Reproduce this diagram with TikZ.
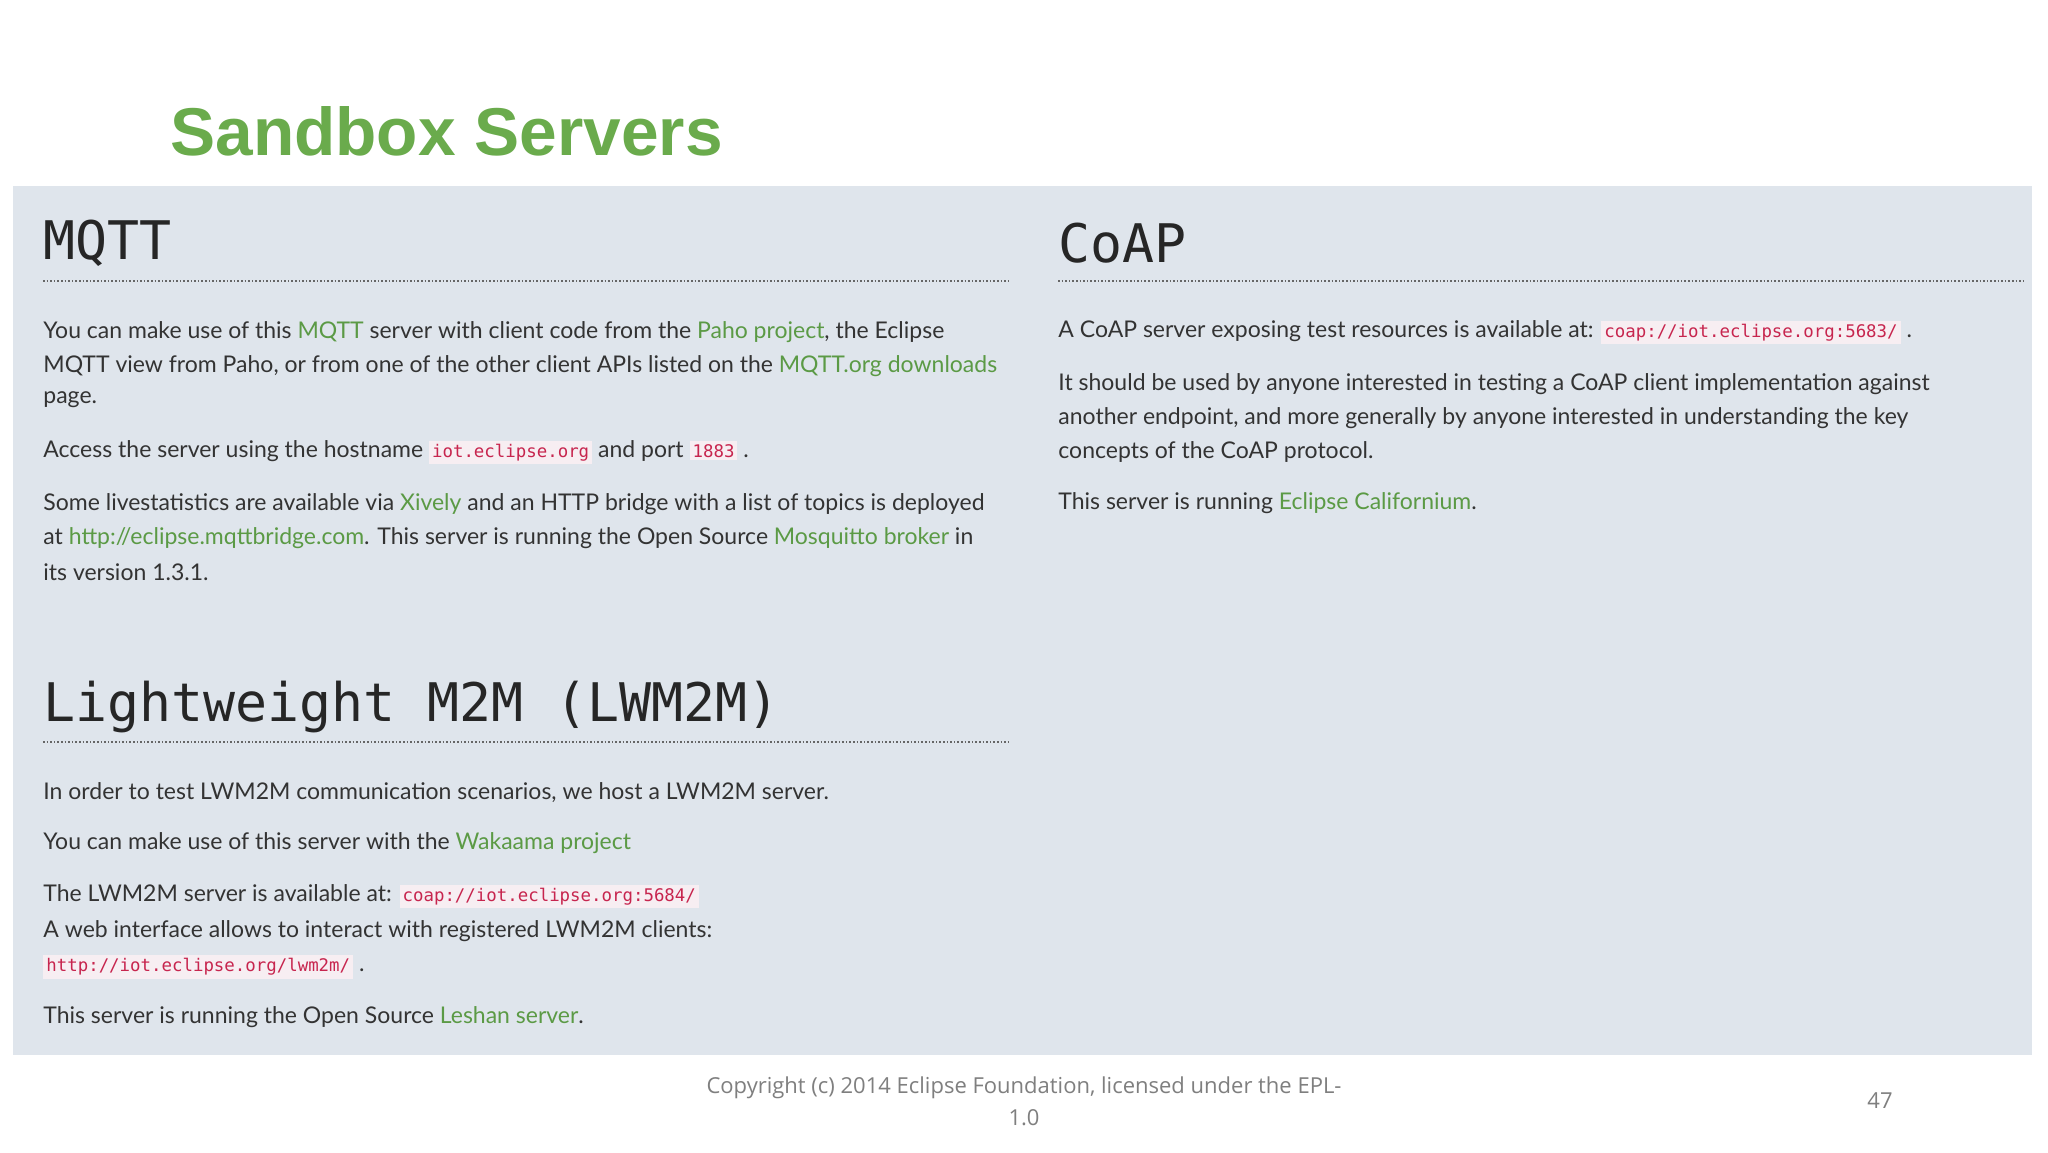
\documentclass[tikz,border=0pt]{standalone}
\usepackage{fontspec}
\setmainfont{Lato}
\setsansfont{Liberation Sans}
\setmonofont{DejaVu Sans Mono}
\definecolor{ttl}{HTML}{6AAB4C}
\definecolor{panel}{HTML}{DFE5EC}
\definecolor{lnk}{HTML}{5B9A45}
\definecolor{txt}{HTML}{333333}
\definecolor{codefg}{HTML}{C7254E}
\definecolor{codebg}{HTML}{F7EEF2}
\definecolor{foot}{HTML}{7F7F7F}
\newcommand{\lk}[1]{\textcolor{lnk}{#1}}
\newcommand{\cd}[1]{{\setlength\fboxsep{1.5pt}\colorbox{codebg}{\textcolor{codefg}{\ttfamily\fontsize{8.7}{10}\selectfont #1}}}}
\begin{document}
\begin{tikzpicture}[x=0.5pt,y=-0.5pt,
  bl/.style={anchor=west,inner sep=0,text=txt,font=\fontsize{11.5}{13}\selectfont},
  hd/.style={anchor=west,inner sep=0,text=black!85,font=\ttfamily\fontsize{26.6}{30}\selectfont},
  rule/.style={densely dotted,draw=black!60,line width=0.8pt}]
\useasboundingbox (0,0) rectangle (2048,1152);
\fill[white] (0,0) rectangle (2048,1152);
\fill[panel] (13,186) rectangle (2032,1055);
\node[anchor=west,inner sep=0,text=ttl,font=\sffamily\bfseries\fontsize{33.8}{38}\selectfont] (title) at (170,131) {Sandbox Servers};
% MQTT
\node[hd] (h1) at (43,243) {MQTT};
\draw[rule] (43,281) -- (1008,281);
\node[bl] (m1) at (43,332) {You can make use of this \lk{MQTT} server with client code from the \lk{Paho project}, the Eclipse};
\node[bl] (m2) at (43,366) {MQTT view from Paho, or from one of the other client APIs listed on the \lk{MQTT.org downloads}};
\node[bl] (m3) at (43,400) {page.};
\node[bl] (m4) at (43,452) {Access the server using the hostname \cd{iot.eclipse.org} and port \cd{1883} .};
\node[bl] (m5) at (43,504) {Some livestatistics are available via \lk{Xively} and an HTTP bridge with a list of topics is deployed};
\node[bl] (m6) at (43,538) {at \lk{http://eclipse.mqttbridge.com}. This server is running the Open Source \lk{Mosquitto broker} in};
\node[bl] (m7) at (43,572) {its version 1.3.1.};
% LWM2M
\node[hd] (h2) at (43,707) {Lightweight M2M (LWM2M)};
\draw[rule] (43,742) -- (1008,742);
\node[bl] (l1) at (43,793) {In order to test LWM2M communication scenarios, we host a LWM2M server.};
\node[bl] (l2) at (43,843) {You can make use of this server with the \lk{Wakaama project}};
\node[bl] (l3) at (43,896) {The LWM2M server is available at: \cd{coap://iot.eclipse.org:5684/}};
\node[bl] (l4) at (43,931) {A web interface allows to interact with registered LWM2M clients:};
\node[bl] (l5) at (43,967) {\cd{http://iot.eclipse.org/lwm2m/} .};
\node[bl] (l6) at (43,1017) {This server is running the Open Source \lk{Leshan server}.};
% CoAP
\node[hd] (h3) at (1058,243) {CoAP};
\draw[rule] (1058,281) -- (2024,281);
\node[bl] (c1) at (1058,332) {A CoAP server exposing test resources is available at: \cd{coap://iot.eclipse.org:5683/} .};
\node[bl] (c2) at (1058,384) {It should be used by anyone interested in testing a CoAP client implementation against};
\node[bl] (c3) at (1058,418) {another endpoint, and more generally by anyone interested in understanding the key};
\node[bl] (c4) at (1058,452) {concepts of the CoAP protocol.};
\node[bl] (c5) at (1058,503) {This server is running \lk{Eclipse Californium}.};
% footer
\node[inner sep=0,text=foot,font=\fontspec{Open Sans}\fontsize{11}{16}\selectfont,align=center] (ft) at (1024,1101) {Copyright (c) 2014 Eclipse Foundation, licensed under the EPL-\\1.0};
\node[inner sep=0,text=foot,font=\fontspec{Open Sans}\fontsize{11}{13}\selectfont] (pg) at (1880,1101) {47};
\end{tikzpicture}
\end{document}
